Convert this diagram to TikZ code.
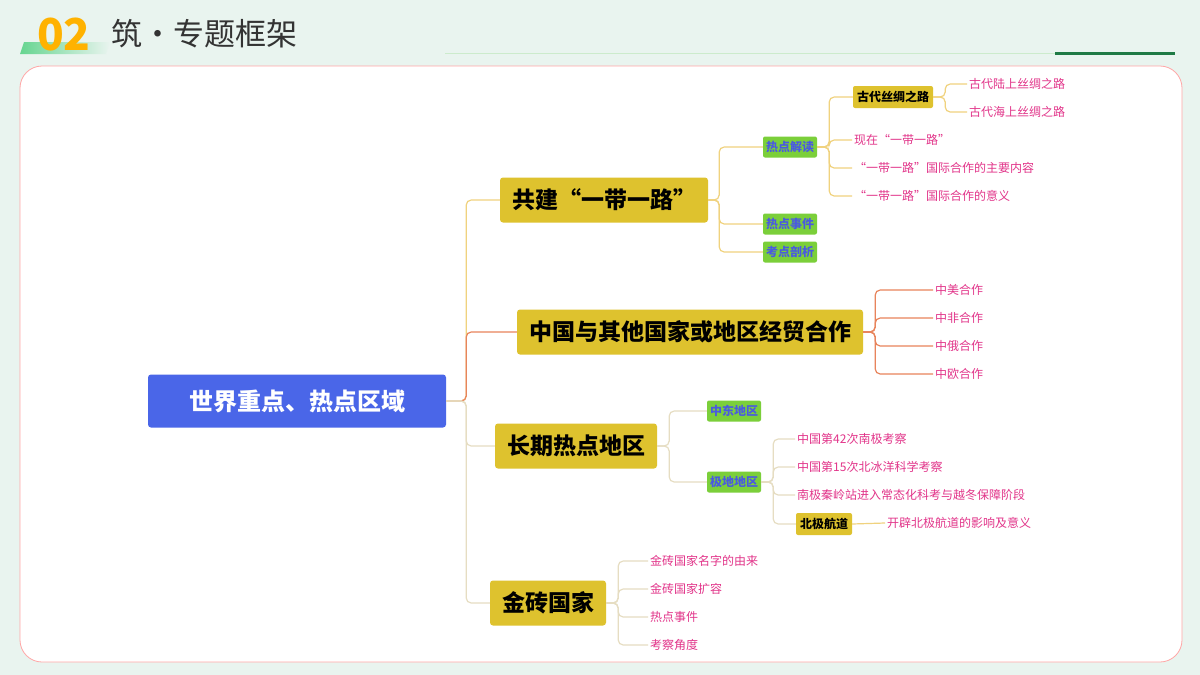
\documentclass[tikz,border=0pt]{standalone}
\usepackage{fontspec}
\setmainfont{Noto Sans CJK SC}
\usetikzlibrary{positioning}
\definecolor{bgc}{HTML}{E9F4EF}
\definecolor{rootc}{HTML}{4A66E8}
\definecolor{topicc}{HTML}{DEC22E}
\definecolor{subc}{HTML}{7BCF3A}
\definecolor{subt}{HTML}{4A5AE0}
\definecolor{leafc}{HTML}{E2358A}
\definecolor{lny}{HTML}{F0D27E}
\definecolor{lno}{HTML}{E8845C}
\definecolor{lnb}{HTML}{E6DDC2}
\definecolor{darkg}{HTML}{1F7A45}
\tikzset{
  root/.style={fill=rootc,rounded corners=3pt,text=white,font=\fontsize{24}{28}\selectfont\bfseries,minimum width=298,minimum height=53},
  topic/.style={fill=topicc,rounded corners=3pt,font=\fontsize{23}{28}\selectfont\bfseries,minimum height=45,inner xsep=12},
  sub/.style={fill=subc,rounded corners=2pt,text=subt,font=\fontsize{12}{14}\selectfont\bfseries,minimum height=21,inner xsep=3},
  hot/.style={fill=topicc,rounded corners=2pt,font=\fontsize{12}{14}\selectfont\bfseries,minimum height=22,inner xsep=4},
  leaf/.style={anchor=west,text=leafc,font=\fontsize{12}{14}\selectfont,inner xsep=2,inner ysep=1},
  ln/.style={draw=lny,line width=1.2pt,rounded corners=5pt}
}
\begin{document}
\begin{tikzpicture}[x=1pt,y=-1pt]
\useasboundingbox (0,0) rectangle (1200,675);
\fill[bgc] (0,0) rectangle (1200,675);
% header
\shade[left color=green!45!teal!60,right color=bgc] (24,42) -- (110,42) -- (106,54) -- (20,54) -- cycle;
\node[text=orange!60!yellow,font=\fontsize{44}{44}\selectfont\bfseries] (num) at (64,35) {02};
\node[anchor=west,text=black!80,font=\fontsize{31}{34}\selectfont] (title) at (108,34) {筑·专题框架};
\draw[green!60!black!20,line width=1pt] (445,53) -- (1175,53);
\draw[darkg,line width=3pt] (1055,53) -- (1175,53);
% card
\draw[fill=white,draw=red!35,line width=0.8pt,rounded corners=22pt] (20,66) rectangle (1182,662);

\node[root] (r) at (297,401) {世界重点、热点区域};
\node[topic] (a) at (604,200) {共建“一带一路”};
\node[topic] (b) at (690,332) {中国与其他国家或地区经贸合作};
\node[topic] (c) at (576,446) {长期热点地区};
\node[topic] (d) at (548,603) {金砖国家};

\node[sub] (a1) at (790,147) {热点解读};
\node[sub] (a2) at (790,224) {热点事件};
\node[sub] (a3) at (790,252) {考点剖析};
\node[hot] (a11) at (893,97) {古代丝绸之路};
\node[leaf] (a12) at (852,140) {现在“一带一路”};
\node[leaf] (a13) at (852,168) {“一带一路”国际合作的主要内容};
\node[leaf] (a14) at (852,196) {“一带一路”国际合作的意义};
\node[leaf] (a111) at (967,84) {古代陆上丝绸之路};
\node[leaf] (a112) at (967,112) {古代海上丝绸之路};

\node[leaf] (b1) at (933,290) {中美合作};
\node[leaf] (b2) at (933,318) {中非合作};
\node[leaf] (b3) at (933,346) {中俄合作};
\node[leaf] (b4) at (933,374) {中欧合作};

\node[sub] (c1) at (734,411) {中东地区};
\node[sub] (c2) at (734,482) {极地地区};
\node[leaf] (c21) at (795,439) {中国第42次南极考察};
\node[leaf] (c22) at (795,467) {中国第15次北冰洋科学考察};
\node[leaf] (c23) at (795,495) {南极秦岭站进入常态化科考与越冬保障阶段};
\node[hot] (c24) at (824,524) {北极航道};
\node[leaf] (c241) at (885,523) {开辟北极航道的影响及意义};

\node[leaf] (d1) at (648,561) {金砖国家名字的由来};
\node[leaf] (d2) at (648,589) {金砖国家扩容};
\node[leaf] (d3) at (648,617) {热点事件};
\node[leaf] (d4) at (648,645) {考察角度};

% connectors
\draw[ln] (r.east) -- ++(20,0) |- (a.west);
\draw[ln,draw=lno] (r.east) -- ++(20,0) |- (b.west);
\draw[ln,draw=lnb] (r.east) -- ++(20,0) |- (c.west);
\draw[ln,draw=lnb] (r.east) -- ++(20,0) |- (d.west);
\foreach \t in {a1,a2,a3} \draw[ln] (a.east) -- ++(11,0) |- (\t.west);
\foreach \t in {a11,a12,a13,a14} \draw[ln] (a1.east) -- ++(12,0) |- (\t.west);
\foreach \t in {a111,a112} \draw[ln] (a11.east) -- ++(12,0) |- (\t.west);
\foreach \t in {b1,b2,b3,b4} \draw[ln,draw=lno] (b.east) -- ++(12,0) |- (\t.west);
\foreach \t in {c1,c2} \draw[ln,draw=lnb] (c.east) -- ++(12,0) |- (\t.west);
\foreach \t in {c21,c22,c23,c24} \draw[ln,draw=lnb] (c2.east) -- ++(12,0) |- (\t.west);
\draw[ln] (c24.east) -- (c241.west);
\foreach \t in {d1,d2,d3,d4} \draw[ln,draw=lnb] (d.east) -- ++(12,0) |- (\t.west);
\end{tikzpicture}
\end{document}
